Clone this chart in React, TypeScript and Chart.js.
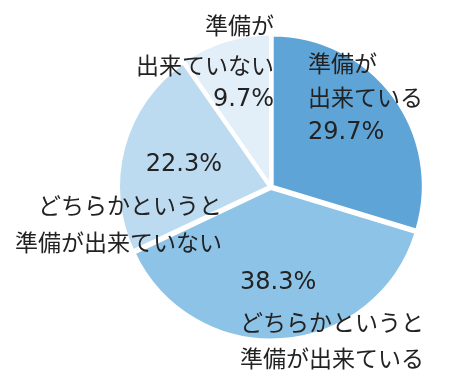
import React, { useEffect, useRef } from "react";
import { Chart, registerables } from "chart.js";

Chart.register(...registerables);

const categories = [
  "準備が出来ている",
  "どちらかというと準備が出来ている",
  "どちらかというと準備が出来ていない",
  "準備が出来ていない",
];
const values = [29.7, 38.3, 22.3, 9.7];
const colors = ["#5fa4d6", "#8cc3e6", "#bddbf0", "#e2eef8"];

// label text lines per slice ("%" line built from values)
const labelLines: string[][] = [
  ["準備が", "出来ている", "{v}"],
  ["{v}", "どちらかというと", "準備が出来ている"],
  ["{v}", "どちらかというと", "準備が出来ていない"],
  ["準備が", "出来ていない", "{v}"],
];

// layout of labels relative to the pie centre
const labelLayout = [
  { align: "left", dx: 37, dys: [-124, -90, -54] },
  { align: "left", dx: -31, dys: [96, 135, 171] },
  { align: "right", dx: -49, dys: [-22, 18, 55] },
  { align: "right", dx: 3, dys: [-162, -122, -87] },
];

const JP_FONT = '23px "Noto Sans CJK JP", "Noto Sans", sans-serif';
const PCT_FONT = '24px "DejaVu Sans", "Noto Sans", sans-serif';

const labelPlugin = {
  id: "sliceLabels",
  afterDatasetsDraw(chart: any) {
    const ctx = chart.ctx;
    const meta = chart.getDatasetMeta(0);
    ctx.save();
    ctx.fillStyle = "#222222";
    ctx.textBaseline = "middle";
    meta.data.forEach((arc: any, i: number) => {
      const lay = labelLayout[i];
      ctx.textAlign = lay.align;
      labelLines[i].forEach((line, j) => {
        const isPct = line === "{v}";
        const text = isPct ? values[i].toFixed(1) + "%" : line;
        ctx.font = isPct ? PCT_FONT : JP_FONT;
        ctx.fillText(text, arc.x + lay.dx, arc.y + lay.dys[j]);
      });
    });
    ctx.restore();
  },
};

export default function App() {
  const ref = useRef<HTMLCanvasElement | null>(null);
  useEffect(() => {
    if (!ref.current) return;
    const chart = new Chart(ref.current, {
      type: "pie",
      data: {
        labels: categories,
        datasets: [
          {
            data: values,
            backgroundColor: colors,
            borderColor: "#ffffff",
            borderWidth: 3,
            offset: 6,
          },
        ],
      },
      options: {
        responsive: false,
        animation: false,
        radius: 151,
        layout: { padding: { left: 92, right: 0, top: 0, bottom: 2 } },
        plugins: {
          legend: { display: false },
          tooltip: { enabled: false },
        },
      },
      plugins: [labelPlugin],
    });
    return () => chart.destroy();
  }, []);
  return (
    <div style={{ position: "absolute", left: 0, top: 0, width: 450, height: 376, background: "#fff" }}>
      <canvas ref={ref} width={450} height={376} style={{ width: 450, height: 376 }} />
    </div>
  );
}
